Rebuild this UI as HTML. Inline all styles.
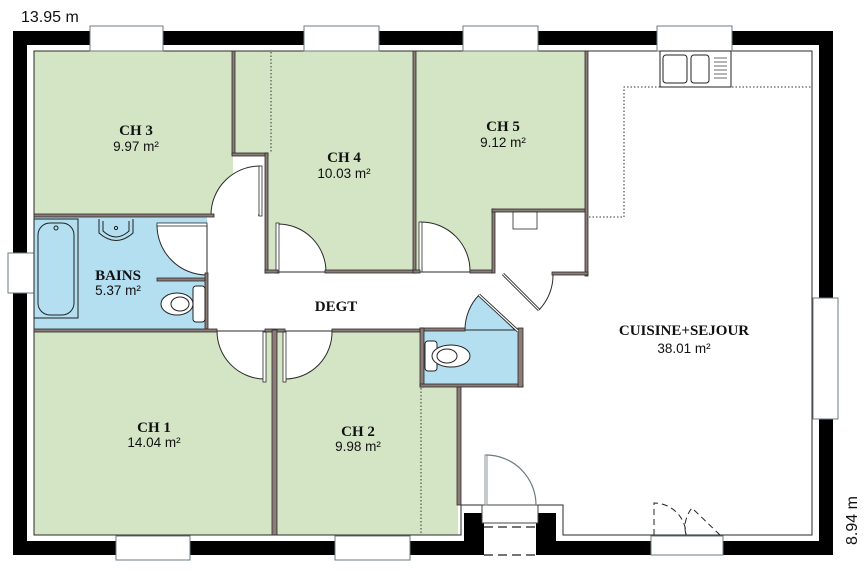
<!DOCTYPE html>
<html><head><meta charset="utf-8"><style>
html,body{margin:0;padding:0;background:#fff;width:867px;height:570px;overflow:hidden}
.l{font-family:"Liberation Serif",serif;font-weight:bold;font-size:15px;fill:#111;text-anchor:middle}
.a{font-family:"Liberation Sans",sans-serif;font-size:13.5px;fill:#111;text-anchor:middle}
.w{fill:#8c7b77;stroke:#2a2a2a;stroke-width:0.8}
.lf{fill:#fff;stroke:#2a2a2a;stroke-width:0.8}
.win{fill:#fff;stroke:#6b7b80;stroke-width:1}
</style></head><body>
<svg width="867" height="570" viewBox="0 0 867 570" xmlns="http://www.w3.org/2000/svg">
<g fill="#d4e5c5">
<rect x="34" y="51" width="199" height="164"/>
<polygon points="235,51 413,51 413,272 268,272 268,155 235,155"/>
<polygon points="416,51 587,51 587,210 493,210 493,272 416,272"/>
<rect x="34" y="331" width="240" height="204"/>
<rect x="276" y="331" width="182" height="204"/>
</g>
<rect x="34" y="217" width="173" height="114" fill="#b3dff0"/>
<rect x="420" y="330" width="100" height="56" fill="#b3dff0"/>
<g fill="#fff" stroke="#2a2a2a" stroke-width="1">
<path d="M260,215 L260,166 A49,49 0 0 0 211,215 Z" />
<path d="M207,225 L157,225 A50,50 0 0 0 207,275 Z"/>
<path d="M278,272 L278,224 A48,48 0 0 1 326,272 Z"/>
<path d="M421,272 L421,222 A49,49 0 0 1 470,272 Z"/>
<path d="M265,331 L217,331 A48,48 0 0 0 265,379 Z"/>
<path d="M285,331 L285,379 A47,47 0 0 0 332,331 Z"/>
</g>
<path d="M515,330 L479,295 A50,50 0 0 0 465,330 Z" fill="#b3dff0" stroke="#2a2a2a" stroke-width="1"/>
<g stroke="#fff" stroke-width="2">
<line x1="212" y1="215" x2="258" y2="215"/>
<line x1="159" y1="225" x2="205" y2="225"/>
</g>
<rect x="13" y="31" width="14" height="524" fill="#000"/>
<rect x="13" y="31" width="820" height="14" fill="#000"/>
<rect x="819" y="31" width="14" height="524" fill="#000"/>
<rect x="13" y="541" width="451" height="14" fill="#000"/>
<rect x="556" y="541" width="277" height="14" fill="#000"/>
<rect x="464" y="513" width="20" height="42" fill="#000"/>
<rect x="536" y="513" width="20" height="42" fill="#000"/>
<path d="M34,51 H812 V535 H563 V505 H461 V535 H34 Z" fill="none" stroke="#2a2a2a" stroke-width="1"/>
<g stroke="#222" stroke-width="1.2" stroke-dasharray="9,5">
<line x1="484" y1="527" x2="536" y2="527"/><line x1="484" y1="555" x2="536" y2="555"/>
</g>
<rect x="482" y="505" width="56" height="18" fill="#fff" stroke="#444" stroke-width="1"/>
<path d="M486,505 V455 A50,50 0 0 1 536,505" fill="none" stroke="#6b7b80" stroke-width="1.2"/>
<rect x="485" y="455" width="2" height="50" fill="#fff" stroke="#6b7b80" stroke-width="0.8"/>
<rect class="win" x="90" y="26" width="73" height="25"/>
<rect class="win" x="304" y="26" width="75" height="25"/>
<rect class="win" x="463" y="26" width="75" height="25"/>
<rect class="win" x="657" y="26" width="75" height="25"/>
<rect class="win" x="116" y="536" width="74" height="24"/>
<rect class="win" x="335" y="536" width="75" height="24"/>
<rect class="win" x="651" y="536" width="72" height="19"/>
<rect class="win" x="8" y="253" width="26" height="40"/>
<rect class="win" x="813" y="298" width="25" height="121"/>
<g fill="none" stroke="#222" stroke-width="1" stroke-dasharray="6,4">
<path d="M654,535 V503 A32,32 0 0 1 686,535"/>
<path d="M720,535 L692,508 A30,30 0 0 0 686,535"/>
</g>
<rect class="w" x="232" y="51" width="3" height="104"/>
<rect class="w" x="232" y="153" width="36" height="3"/>
<rect class="w" x="265" y="153" width="3" height="120"/>
<rect class="lf" x="259" y="166" width="3" height="50"/>
<rect class="w" x="34" y="214" width="180" height="3"/>
<rect class="lf" x="276" y="223" width="3" height="50"/>
<rect class="w" x="265" y="270" width="13" height="3"/>
<rect class="w" x="325" y="270" width="88" height="3"/>
<rect class="w" x="413" y="51" width="3" height="222"/>
<rect class="lf" x="419" y="222" width="3" height="50"/>
<rect class="w" x="413" y="270" width="7" height="3"/>
<rect class="w" x="470" y="270" width="23" height="3"/>
<rect class="w" x="492" y="209" width="3" height="64"/>
<rect class="w" x="492" y="209" width="95" height="3"/>
<rect class="w" x="585" y="51" width="3" height="225"/>
<rect class="w" x="552" y="272" width="36" height="3"/>
<line x1="503" y1="274" x2="539" y2="310" stroke="#2a2a2a" stroke-width="3"/>
<line x1="503" y1="274" x2="539" y2="310" stroke="#fff" stroke-width="1.2"/>
<path d="M539,310 A50,50 0 0 0 553,275" fill="none" stroke="#2a2a2a" stroke-width="1"/>
<rect x="513" y="212" width="24" height="17" fill="#fff" stroke="#2a2a2a" stroke-width="0.8"/>
<rect class="w" x="205" y="273" width="3" height="58"/>
<rect class="w" x="157" y="278" width="48" height="3"/>
<rect class="lf" x="157" y="223" width="50" height="3"/>
<rect class="w" x="34" y="329" width="183" height="3"/>
<rect class="lf" x="263" y="332" width="3" height="50"/>
<rect class="w" x="265" y="329" width="20" height="3"/>
<rect class="w" x="272" y="330" width="5" height="205"/>
<rect class="lf" x="283" y="332" width="3" height="50"/>
<rect class="w" x="332" y="329" width="88" height="3"/>
<rect class="w" x="420" y="328" width="45" height="3"/>
<rect class="w" x="420" y="328" width="4" height="59"/>
<rect class="w" x="420" y="384" width="103" height="3"/>
<rect class="w" x="518" y="328" width="5" height="59"/>
<line x1="479" y1="295" x2="518" y2="331" stroke="#2a2a2a" stroke-width="3"/>
<line x1="479" y1="295" x2="518" y2="331" stroke="#fff" stroke-width="1.2"/>
<rect class="w" x="457" y="387" width="4" height="118"/>
<g stroke="#333" stroke-width="1" stroke-dasharray="1.5,2" fill="none">
<line x1="271" y1="52" x2="271" y2="153"/>
<line x1="421" y1="388" x2="421" y2="534"/>
<path d="M589,217 H624 V87 H812"/>
</g>
<rect x="660" y="51" width="71" height="36" fill="#fff" stroke="#222" stroke-width="1"/>
<rect x="663" y="55" width="24" height="28" rx="3" fill="none" stroke="#222"/>
<rect x="691" y="55" width="18" height="28" rx="3" fill="none" stroke="#222"/>
<g stroke="#444" stroke-width="0.8"><line x1="714" y1="58" x2="727" y2="58"/><line x1="714" y1="62" x2="727" y2="62"/><line x1="714" y1="66" x2="727" y2="66"/><line x1="714" y1="70" x2="727" y2="70"/><line x1="714" y1="74" x2="727" y2="74"/><line x1="714" y1="78" x2="727" y2="78"/></g>
<rect x="34" y="219" width="44" height="99" fill="none" stroke="#222" stroke-width="1"/>
<rect x="38" y="223" width="36" height="92" rx="12" fill="none" stroke="#222" stroke-width="1"/>
<circle cx="56" cy="228" r="2" fill="none" stroke="#222"/>
<path d="M99,219 V233 Q116,248 133,233 V219" fill="none" stroke="#222" stroke-width="1"/>
<path d="M103,221 V231 Q116,243 129,231 V221" fill="none" stroke="#222" stroke-width="1"/>
<circle cx="116" cy="228" r="1.6" fill="none" stroke="#222"/>
<rect x="193" y="286" width="12" height="36" rx="3" fill="#fff" stroke="#222"/>
<ellipse cx="177" cy="304" rx="16" ry="11" fill="#fff" stroke="#222"/>
<ellipse cx="180" cy="304" rx="9" ry="7" fill="none" stroke="#222"/>
<rect x="425" y="341" width="12" height="30" rx="3" fill="#fff" stroke="#222"/>
<ellipse cx="451" cy="356" rx="19" ry="11" fill="#fff" stroke="#222"/>
<ellipse cx="447" cy="356" rx="10" ry="7" fill="none" stroke="#222"/>
<text class="l" x="136" y="135">CH 3</text><text class="a" x="136" y="151">9.97 m²</text>
<text class="l" x="344" y="162">CH 4</text><text class="a" x="344" y="178">10.03 m²</text>
<text class="l" x="503" y="131">CH 5</text><text class="a" x="503" y="147">9.12 m²</text>
<text class="l" x="118" y="280">BAINS</text><text class="a" x="118" y="295">5.37 m²</text>
<text class="l" x="336" y="311">DEGT</text>
<text class="l" x="684" y="335">CUISINE+SEJOUR</text><text class="a" x="684" y="353">38.01 m²</text>
<text class="l" x="154" y="432">CH 1</text><text class="a" x="154" y="447">14.04 m²</text>
<text class="l" x="358" y="436">CH 2</text><text class="a" x="358" y="451">9.98 m²</text>
<text x="21" y="22" font-family="Liberation Sans,sans-serif" font-size="16" fill="#111">13.95 m</text>
<text transform="translate(857,545) rotate(-90)" font-family="Liberation Sans,sans-serif" font-size="16" fill="#111">8.94 m</text>
</svg>
</body></html>
